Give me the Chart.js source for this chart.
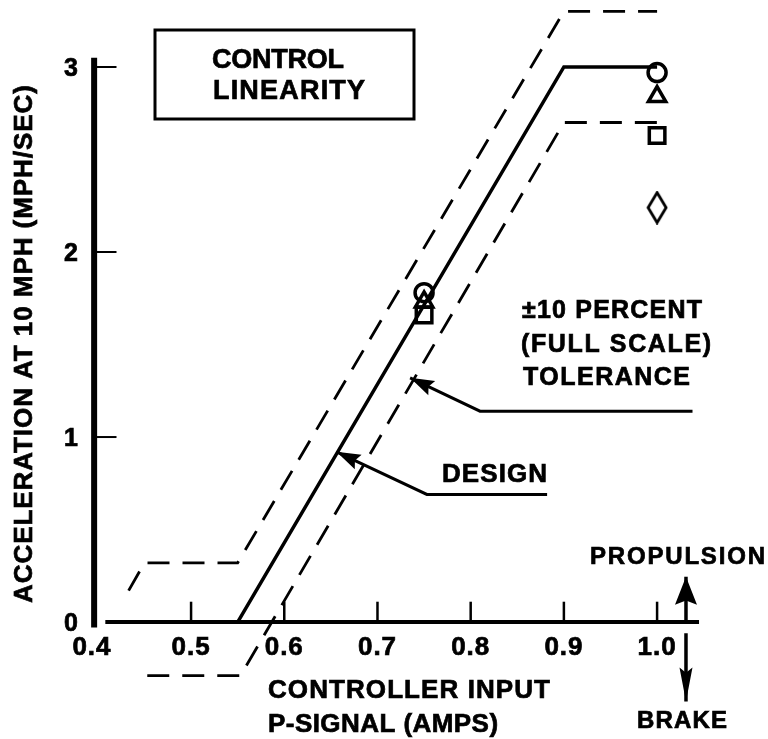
<!DOCTYPE html>
<html lang="en">
<head>
  <meta charset="UTF-8">
  <title>Control Linearity</title>
  <script src="https://cdn.jsdelivr.net/npm/chart.js"></script>
  <style>
    body {
      margin: 0;
      background: #fff;
    }
    #chart-container {
      width: 768px;
      height: 739px;
      position: relative;
    }
  </style>
</head>
<body>
  <div id="chart-container">
    <canvas id="linearityChart"></canvas>
  </div>

  <script>
    // Design curve and +/-10 percent tolerance band
    const designX = [0.55, 0.9, 1.0];
    const designY = [0, 3, 3];
    const upperX = [0.433, 0.45, 0.55, 0.9, 1.0];
    const upperY = [0.17, 0.32, 0.32, 3.3, 3.3];
    const lowerX = [0.453, 0.553, 0.9, 1.0];
    const lowerY = [-0.29, -0.29, 2.7, 2.7];

    // Measured points
    const circleX = [0.75, 1.0];
    const circleY = [1.78, 2.97];
    const triangleX = [0.75, 1.0];
    const triangleY = [1.73, 2.84];
    const squareX = [0.75, 1.0];
    const squareY = [1.66, 2.63];
    const diamondX = [1.0];
    const diamondY = [2.24];

    // Leader lines (last point is the arrow tip)
    const tolLeaderX = [1.038, 0.81, 0.735];
    const tolLeaderY = [1.14, 1.14, 1.32];
    const designLeaderX = [0.882, 0.753, 0.656];
    const designLeaderY = [0.69, 0.69, 0.92];
    const propulsionX = [1.031, 1.031];
    const propulsionY = [0, 0.245];
    const brakeX = [1.031, 1.031];
    const brakeY = [-0.06, -0.43];

    // Axis ticks
    const xTicks = [0.4, 0.5, 0.6, 0.7, 0.8, 0.9, 1.0];
    const xTickLabels = ["0.4", "0.5", "0.6", "0.7", "0.8", "0.9", "1.0"];
    const yTicks = [0, 1, 2, 3];
    const yTickLabels = ["0", "1", "2", "3"];

    const pts = (xs, ys) => xs.map((x, i) => ({ x: x, y: ys[i] }));
    const FONT = '"Liberation Sans", Arial, sans-serif';

    // which lines get an arrow head at their last point: [xs, ys, length, width]
    const arrowSpecs = [
      [tolLeaderX, tolLeaderY, 24, 16],
      [designLeaderX, designLeaderY, 24, 16],
      [propulsionX, propulsionY, 28, 22],
      [brakeX, brakeY, 34, 13]
    ];

    // elongated diamond marker
    const diamondImg = document.createElement("canvas");
    diamondImg.width = 22;
    diamondImg.height = 34;
    (function () {
      const c = diamondImg.getContext("2d");
      c.lineWidth = 2.8;
      c.strokeStyle = "#000";
      c.beginPath();
      c.moveTo(11, 2);
      c.lineTo(20, 17);
      c.lineTo(11, 32);
      c.lineTo(2, 17);
      c.closePath();
      c.stroke();
    })();

    // bold text, squeezed or spread to the width it has in the scan
    function fitText(ctx, str, x, y, size, width) {
      ctx.font = "bold " + size + "px " + FONT;
      ctx.letterSpacing = "0px";
      const m = ctx.measureText(str).width;
      if (width && str.length > 1) {
        ctx.letterSpacing = ((width - m) / (str.length - 1)).toFixed(2) + "px";
      }
      ctx.lineWidth = 0.7;
      ctx.fillText(str, x, y);
      ctx.strokeText(str, x, y);
      ctx.letterSpacing = "0px";
    }

    function arrowHead(ctx, x0, y0, x1, y1, len, wid) {
      const a = Math.atan2(y1 - y0, x1 - x0);
      ctx.save();
      ctx.translate(x1, y1);
      ctx.rotate(a);
      ctx.beginPath();
      ctx.moveTo(0, 0);
      ctx.lineTo(-len, wid / 2);
      ctx.lineTo(-len * 0.85, 0);
      ctx.lineTo(-len, -wid / 2);
      ctx.closePath();
      ctx.fill();
      ctx.restore();
    }

    const decorPlugin = {
      id: "decor",
      afterDatasetsDraw(chart) {
        const ctx = chart.ctx;
        const xs = chart.scales.x, ys = chart.scales.y;
        ctx.save();
        ctx.fillStyle = "#000";
        arrowSpecs.forEach(([ax, ay, len, wid]) => {
          const n = ax.length;
          arrowHead(ctx,
            xs.getPixelForValue(ax[n - 2]), ys.getPixelForValue(ay[n - 2]),
            xs.getPixelForValue(ax[n - 1]), ys.getPixelForValue(ay[n - 1]),
            len, wid);
        });
        ctx.restore();
      },
      afterDraw(chart) {
        const ctx = chart.ctx;
        const xs = chart.scales.x, ys = chart.scales.y;
        const px = v => xs.getPixelForValue(v);
        const py = v => ys.getPixelForValue(v);
        ctx.save();
        ctx.strokeStyle = "#000";
        ctx.fillStyle = "#000";
        ctx.lineCap = "butt";

        // y axis (heavy)
        ctx.lineWidth = 6;
        ctx.beginPath();
        ctx.moveTo(px(0.396), py(-0.03));
        ctx.lineTo(px(0.396), py(3.05));
        ctx.stroke();
        // x axis
        ctx.lineWidth = 4;
        ctx.beginPath();
        ctx.moveTo(px(0.408), py(0));
        ctx.lineTo(px(1.045), py(0));
        ctx.stroke();

        // y ticks
        ctx.lineWidth = 2;
        yTicks.forEach(v => {
          if (v === 0) return;
          ctx.beginPath();
          ctx.moveTo(px(0.396), py(v));
          ctx.lineTo(px(0.42), py(v));
          ctx.stroke();
        });
        // x ticks
        ctx.lineWidth = 2.5;
        xTicks.forEach(v => {
          if (v === 0.4) return;
          ctx.beginPath();
          ctx.moveTo(px(v), py(0));
          ctx.lineTo(px(v), py(0.11));
          ctx.stroke();
        });

        // tick labels
        ctx.textBaseline = "alphabetic";
        ctx.textAlign = "right";
        yTicks.forEach((v, i) => {
          fitText(ctx, yTickLabels[i], 78, py(v) + 9, 25);
        });
        ctx.textAlign = "center";
        xTicks.forEach((v, i) => {
          fitText(ctx, xTickLabels[i], px(v) - (i === 0 ? 6 : 0), 655, 26, 38);
        });

        // axis titles
        ctx.textAlign = "left";
        fitText(ctx, "CONTROLLER INPUT", 268, 698, 26, 282);
        fitText(ctx, "P-SIGNAL (AMPS)", 268, 732, 26, 230);
        ctx.save();
        ctx.translate(32, 603);
        ctx.rotate(-Math.PI / 2);
        fitText(ctx, "ACCELERATION AT 10 MPH (MPH/SEC)", 0, 0, 26, 518);
        ctx.restore();

        // title box
        ctx.lineWidth = 3;
        ctx.strokeRect(155, 30, 259, 89);
        fitText(ctx, "CONTROL", 212, 68, 27, 132);
        fitText(ctx, "LINEARITY", 213, 99, 27, 152);

        // annotations
        fitText(ctx, "\u00b110 PERCENT", 522, 318, 25, 180);
        fitText(ctx, "(FULL SCALE)", 521, 352, 25, 190);
        fitText(ctx, "TOLERANCE", 523, 385, 25, 167);
        fitText(ctx, "DESIGN", 442, 482, 26, 105);
        fitText(ctx, "PROPULSION", 590, 564, 24, 175);
        fitText(ctx, "BRAKE", 637, 728, 24, 90);

        ctx.restore();
      }
    };

    const lineDs = (label, data, width, dash) => ({
      label: label,
      data: data,
      showLine: true,
      borderColor: "#000",
      borderWidth: width,
      borderDash: dash || [],
      pointRadius: 0,
      fill: false,
      tension: 0
    });

    const markerDs = (label, data, style, radius) => ({
      label: label,
      data: data,
      showLine: false,
      pointStyle: style,
      pointRadius: radius,
      pointBorderWidth: 3.5,
      pointBackgroundColor: "rgba(255,255,255,0)",
      pointBorderColor: "#000"
    });

    const ctx = document.getElementById("linearityChart").getContext("2d");
    new Chart(ctx, {
      type: "scatter",
      data: {
        datasets: [
          lineDs("design", pts(designX, designY), 3.5),
          lineDs("upper tolerance", pts(upperX, upperY), 2.8, [22, 13]),
          lineDs("lower tolerance", pts(lowerX, lowerY), 2.8, [22, 13]),
          lineDs("tolerance leader", pts(tolLeaderX, tolLeaderY), 3),
          lineDs("design leader", pts(designLeaderX, designLeaderY), 3),
          lineDs("propulsion", pts(propulsionX, propulsionY), 3.5),
          lineDs("brake", pts(brakeX, brakeY), 3.5),
          markerDs("circle", pts(circleX, circleY), "circle", 9),
          markerDs("triangle", pts(triangleX, triangleY), "triangle", 10),
          markerDs("square", pts(squareX, squareY), "rect", 11),
          markerDs("diamond", pts(diamondX, diamondY), diamondImg, 12)
        ]
      },
      options: {
        responsive: true,
        maintainAspectRatio: false,
        animation: false,
        layout: { padding: 0, autoPadding: false },
        scales: {
          x: { type: "linear", min: 0.295, max: 1.119, display: false },
          y: { type: "linear", min: -0.632, max: 3.362, display: false }
        },
        plugins: {
          legend: { display: false },
          tooltip: { enabled: false }
        }
      },
      plugins: [decorPlugin]
    });
  </script>
</body>
</html>
